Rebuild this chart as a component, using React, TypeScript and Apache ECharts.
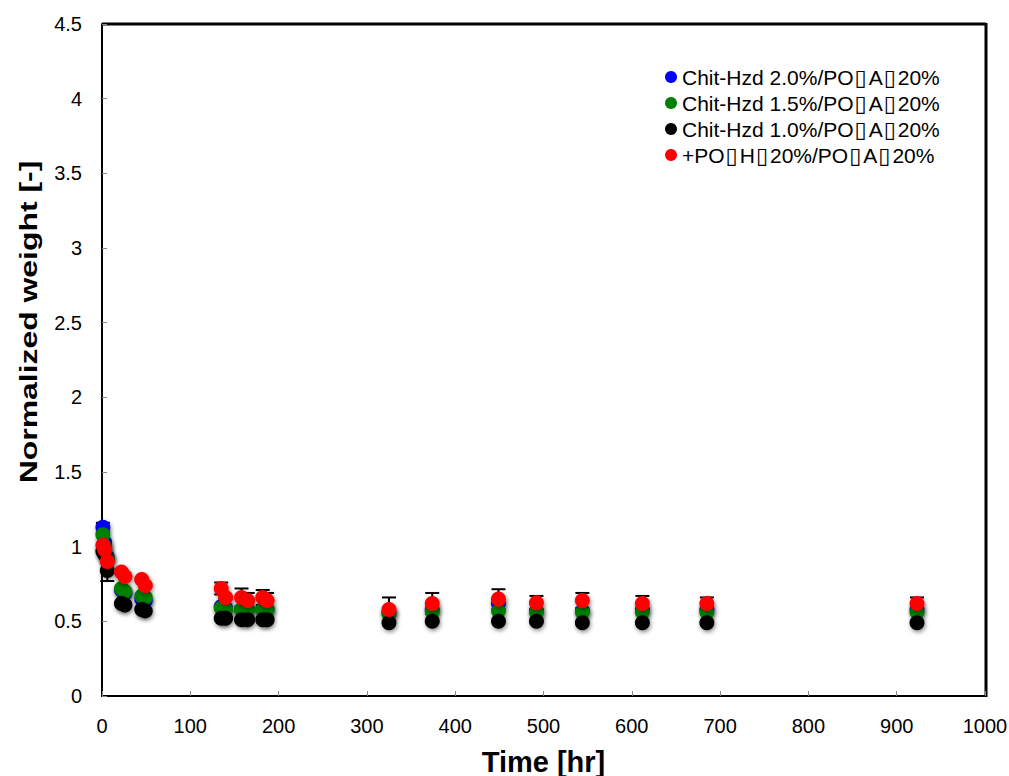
import React, { useEffect, useRef } from "react";
import * as echarts from "echarts";

const times = [1, 3, 6, 22, 26, 45, 49, 135, 140, 158, 165, 182, 187, 325, 374, 449, 492, 544, 612, 685, 923];
const blueVals = [1.13, 1.03, 0.93, 0.71, 0.69, 0.65, 0.64, 0.6, 0.59, 0.58, 0.58, 0.58, 0.58, 0.56, 0.58, 0.62, 0.57, 0.57, 0.58, 0.58, 0.58];
const greenVals = [1.08, 1.0, 0.92, 0.72, 0.7, 0.67, 0.66, 0.59, 0.58, 0.58, 0.58, 0.58, 0.58, 0.55, 0.565, 0.57, 0.56, 0.56, 0.56, 0.56, 0.56];
const blackVals = [0.97, 0.95, 0.84, 0.62, 0.61, 0.58, 0.57, 0.52, 0.52, 0.51, 0.51, 0.51, 0.51, 0.49, 0.5, 0.5, 0.5, 0.49, 0.49, 0.49, 0.49];
const redVals = [1.01, 0.98, 0.9, 0.83, 0.8, 0.78, 0.74, 0.72, 0.66, 0.66, 0.64, 0.66, 0.64, 0.58, 0.62, 0.65, 0.625, 0.64, 0.62, 0.62, 0.62];
const blueErr = [0.03, 0, 0, 0, 0, 0, 0, 0, 0, 0, 0, 0, 0, 0, 0, 0, 0, 0, 0, 0, 0];
const blackErr = [0, 0, 0.07, 0, 0, 0, 0, 0, 0, 0, 0, 0, 0, 0, 0, 0, 0, 0, 0, 0, 0];
const redErr = [0, 0, 0, 0.01, 0.01, 0.01, 0.01, 0.04, 0.01, 0.06, 0.05, 0.05, 0.05, 0.08, 0.07, 0.065, 0.045, 0.05, 0.05, 0.04, 0.04];

const seriesNames = [
  "Chit-Hzd 2.0%/PO\u25AFA\u25AF20%",
  "Chit-Hzd 1.5%/PO\u25AFA\u25AF20%",
  "Chit-Hzd 1.0%/PO\u25AFA\u25AF20%",
  "+PO\u25AFH\u25AF20%/PO\u25AFA\u25AF20%",
];
const colors = ["#0000ff", "#008000", "#000000", "#ff0000"];
const xTitle = "Time [hr]";
const yTitle = "Normalized weight [-]";

const FONT = "Liberation Sans, Arial, sans-serif";

export default function App() {
  const ref = useRef<HTMLDivElement>(null);
  useEffect(() => {
    const chart = echarts.init(ref.current!, null, { renderer: "svg" });
    const allVals = [blueVals, greenVals, blackVals, redVals];
    const errs = [blueErr, null, blackErr, redErr];
    const errData: number[][] = [];
    allVals.forEach((vals, si) => {
      const e = errs[si];
      if (!e) return;
      vals.forEach((v, i) => {
        if (e[i] > 0) errData.push([times[i], v - e[i], v + e[i]]);
      });
    });
    const scatter = allVals.map((vals, si) => ({
      name: seriesNames[si],
      type: "scatter",
      symbol: "circle",
      symbolSize: 15,
      z: 3 + si,
      itemStyle: {
        color: colors[si],
        opacity: 1,
        shadowBlur: 4,
        shadowColor: "rgba(0,0,0,0.45)",
        shadowOffsetX: 1,
        shadowOffsetY: 2,
      },
      data: vals.map((v, i) => [times[i], v]),
    }));
    chart.setOption({
      animation: false,
      grid: { left: 102, top: 24, right: 24, bottom: 80, containLabel: false, outerBoundsMode: "none" },
      legend: {
        left: 660,
        top: 61,
        orient: "vertical",
        itemWidth: 12,
        itemHeight: 12,
        itemGap: 4,
        icon: "circle",
        formatter: (n: string) => n.replace(/\u25AF/g, "{b|\u25AF}"),
        textStyle: {
          fontFamily: FONT,
          fontSize: 21,
          lineHeight: 21,
          color: "#000",
          rich: { b: { fontFamily: "DejaVu Sans", fontSize: 22, lineHeight: 21, color: "#000", padding: [0, 2, 0, 1] } },
        },
        data: seriesNames,
      },
      xAxis: {
        type: "value",
        min: 0,
        max: 1000,
        interval: 100,
        name: xTitle,
        nameLocation: "middle",
        nameGap: 51,
        nameTextStyle: { fontFamily: FONT, fontSize: 29, fontWeight: "bold", color: "#000" },
        axisLine: { lineStyle: { color: "#000", width: 2 } },
        axisTick: { inside: true, length: 5, lineStyle: { color: "#888" } },
        splitLine: { show: false },
        axisLabel: { fontFamily: FONT, fontSize: 20, color: "#000", margin: 20, formatter: (v: number) => String(v) },
      },
      yAxis: {
        type: "value",
        min: 0,
        max: 4.5,
        interval: 0.5,
        axisLine: { show: true, lineStyle: { color: "#000", width: 2 } },
        axisTick: { show: true, inside: true, length: 5, lineStyle: { color: "#888" } },
        splitLine: { show: false },
        axisLabel: { fontFamily: FONT, fontSize: 20, color: "#000", margin: 20, formatter: (v: number) => String(v) },
      },
      graphic: [
        { type: "line", shape: { x1: 102, y1: 24, x2: 986, y2: 24 }, style: { stroke: "#000", lineWidth: 3 } },
        { type: "line", shape: { x1: 986, y1: 23, x2: 986, y2: 697 }, style: { stroke: "#000", lineWidth: 3 } },
        {
          type: "text",
          x: 29,
          y: 322,
          rotation: Math.PI / 2,
          scaleX: 1.33,
          style: {
            text: yTitle,
            font: `bold 24px ${FONT}`,
            fill: "#000",
            align: "center",
            verticalAlign: "middle",
          },
        },
      ],
      series: [
        {
          type: "custom",
          z: 2,
          renderItem: (params: any, api: any) => {
            const x = api.value(0);
            const lo = api.coord([x, api.value(1)]);
            const hi = api.coord([x, api.value(2)]);
            const w = 7;
            const st = { stroke: "#000", lineWidth: 2 };
            return {
              type: "group",
              children: [
                { type: "line", shape: { x1: lo[0], y1: lo[1], x2: hi[0], y2: hi[1] }, style: st },
                { type: "line", shape: { x1: hi[0] - w, y1: hi[1], x2: hi[0] + w, y2: hi[1] }, style: st },
                { type: "line", shape: { x1: lo[0] - w, y1: lo[1], x2: lo[0] + w, y2: lo[1] }, style: st },
              ],
            };
          },
          data: errData,
        },
        ...scatter,
      ],
    });
    return () => chart.dispose();
  }, []);
  return <div ref={ref} style={{ width: 1009, height: 776, position: "absolute", left: 0, top: 0 }} />;
}
